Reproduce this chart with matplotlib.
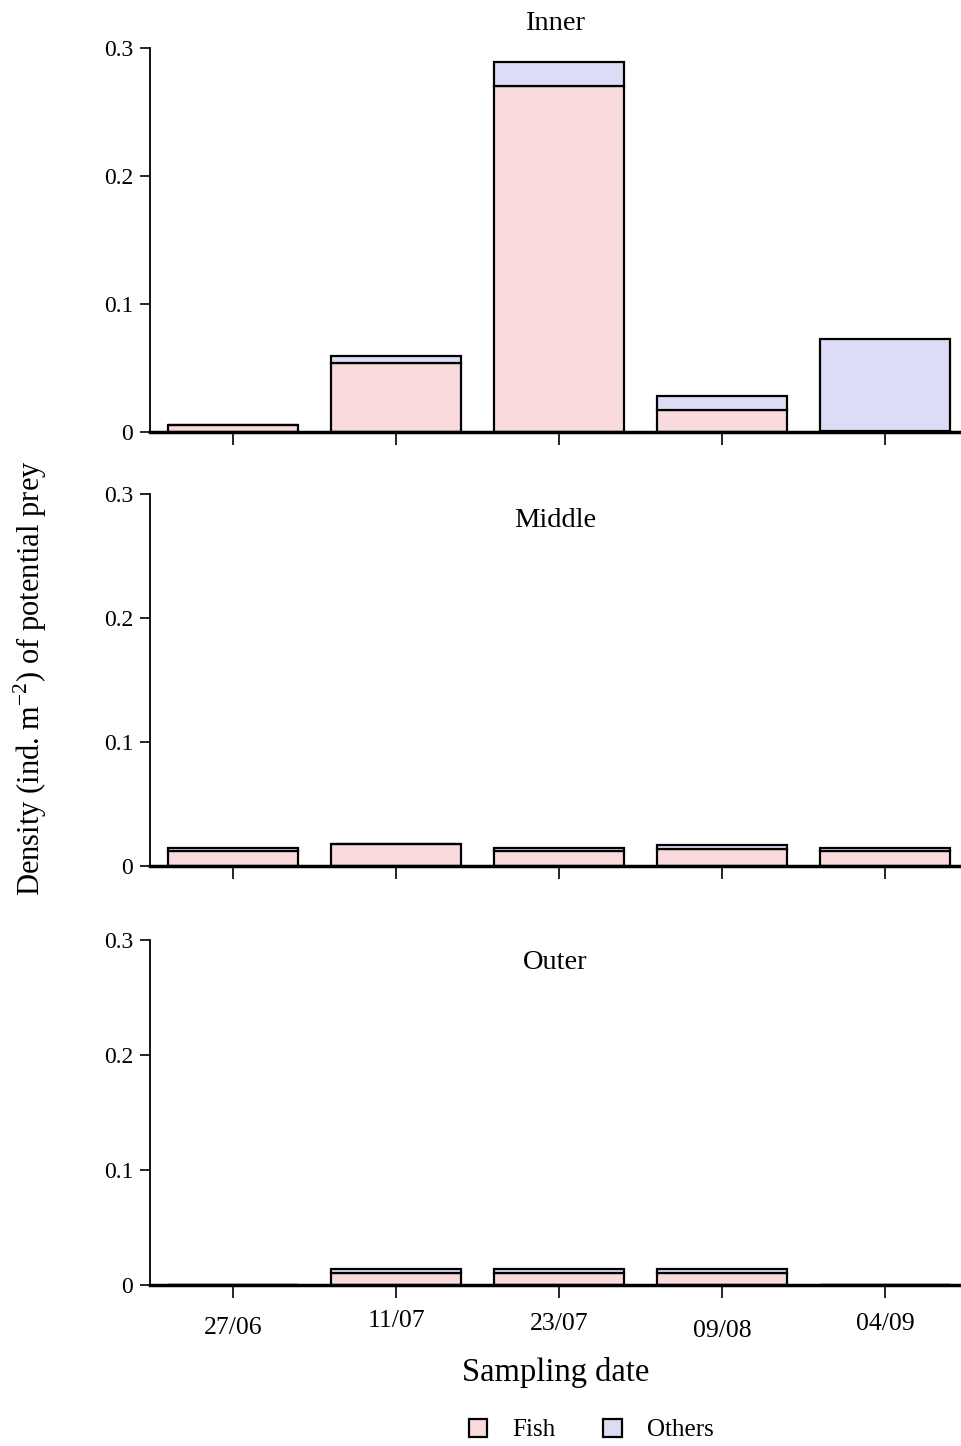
import matplotlib

matplotlib.use("Agg")
import matplotlib.pyplot as plt
from matplotlib.patches import Patch

plt.rcParams["font.family"] = ["Liberation Serif", "DejaVu Serif"]
plt.rcParams["mathtext.fontset"] = "custom"
plt.rcParams["mathtext.rm"] = "Liberation Serif"

dates = ["27/06", "11/07", "23/07", "09/08", "04/09"]
sites = ["Inner", "Middle", "Outer"]

# density (ind. m-2) per site, stacked: fish at the bottom, others on top
fish = {
    "Inner": [0.0055, 0.054, 0.270, 0.017, 0.001],
    "Middle": [0.0125, 0.0175, 0.0125, 0.0137, 0.0125],
    "Outer": [0.0, 0.0104, 0.0104, 0.0104, 0.0],
}
others = {
    "Inner": [0.0, 0.005, 0.019, 0.011, 0.072],
    "Middle": [0.002, 0.0003, 0.002, 0.0033, 0.002],
    "Outer": [0.0, 0.0036, 0.0036, 0.0036, 0.0],
}

FISH_COLOR = "#fadbdd"
OTHER_COLOR = "#dcdcf6"

W, H = 961, 1446
# axes boxes in pixels: (left, top, right, bottom)
boxes = [(150, 48, 960, 432), (150, 494, 960, 866), (150, 940, 960, 1285)]
# label offsets (points) for the slightly uneven date labels
label_dy = [0, 5, 3, -2, 3]

fig = plt.figure(figsize=(W / 100, H / 100), dpi=100)
axes = []
for site, (l, t, r, b) in zip(sites, boxes):
    ax = fig.add_axes([l / W, 1 - b / H, (r - l) / W, (b - t) / H])
    x = range(len(dates))
    ax.bar(x, fish[site], width=0.8, color=FISH_COLOR, edgecolor="black",
           linewidth=1.6, zorder=2)
    ax.bar(x, others[site], width=0.8, bottom=fish[site], color=OTHER_COLOR,
           edgecolor="black", linewidth=1.6, zorder=2)
    ax.set_xlim(-0.51, 4.46)
    ax.set_ylim(0, 0.3)
    ax.set_yticks([0, 0.1, 0.2, 0.3])
    ax.set_yticklabels(["0", "0.1", "0.2", "0.3"], fontsize=17)
    ax.set_xticks(list(x))
    ax.tick_params(axis="y", length=7, width=1.2, pad=5)
    ax.tick_params(axis="x", length=9, width=1.2, labelbottom=False)
    for side in ("top", "right"):
        ax.spines[side].set_visible(False)
    ax.spines["left"].set_linewidth(1.3)
    ax.spines["bottom"].set_linewidth(2.5)
    ax.spines["bottom"].set_zorder(3)
    axes.append(ax)

axes[0].text(0.5, 1.03, "Inner", transform=axes[0].transAxes, ha="center",
             va="bottom", fontsize=20.5)
axes[1].text(0.5, 0.93, "Middle", transform=axes[1].transAxes, ha="center",
             va="center", fontsize=20.5)
axes[2].text(0.5, 0.935, "Outer", transform=axes[2].transAxes, ha="center",
             va="center", fontsize=20.5)

# date labels under the bottom panel
for i, (d, dy) in enumerate(zip(dates, label_dy)):
    axes[2].annotate(d, xy=(i, 0), xycoords=("data", "axes fraction"),
                     xytext=(0, -23 + dy), textcoords="offset points",
                     ha="center", va="top", fontsize=18.5)

fig.text(556 / W, 1 - 1373 / H, "Sampling date", ha="center", va="center",
         fontsize=23.5)
fig.text(30 / W, 1 - 678 / H, r"Density (ind. m$^{\mathrm{-2}}$) of potential prey",
         rotation=90, ha="center", va="center", fontsize=22)

handles = [Patch(facecolor=FISH_COLOR, edgecolor="black", linewidth=1.6),
           Patch(facecolor=OTHER_COLOR, edgecolor="black", linewidth=1.6)]
fig.legend(handles, ["Fish", "Others"], loc="center", ncol=2,
           bbox_to_anchor=(591 / W, 1 - 1430 / H), frameon=False, fontsize=18,
           handlelength=0.75, handleheight=0.75, columnspacing=1.9,
           handletextpad=1.0)

fig.savefig("out.png", dpi=100)
